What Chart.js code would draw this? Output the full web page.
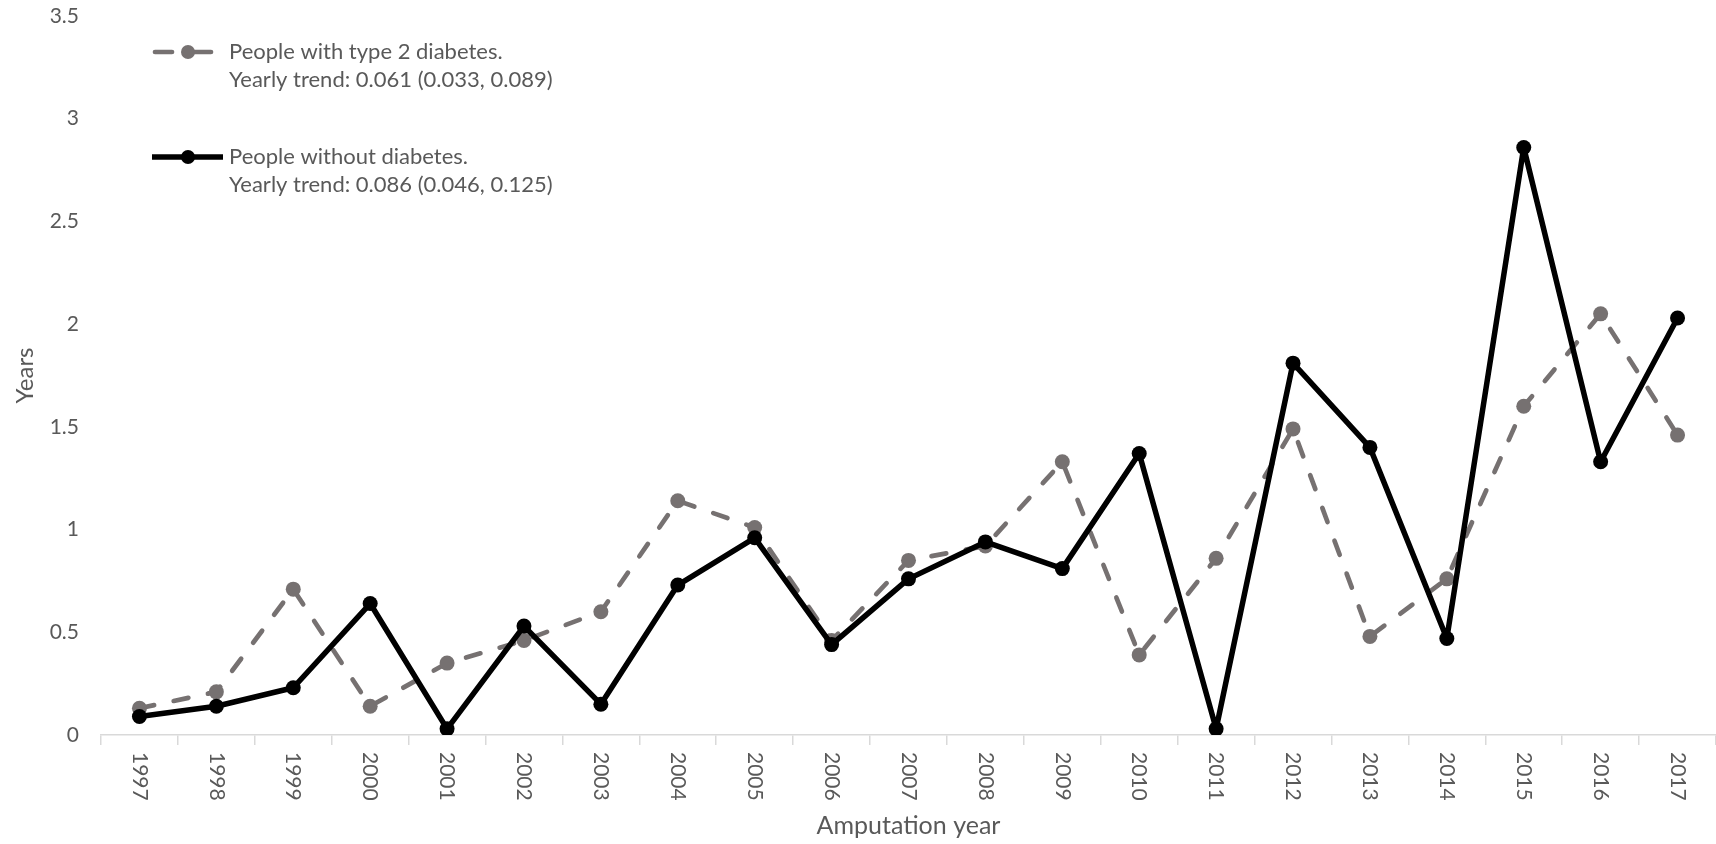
<!DOCTYPE html>
<html>
<head>
<meta charset="utf-8">
<script src="https://cdn.jsdelivr.net/npm/chart.js@4/dist/chart.umd.min.js"></script>
<style>
  html, body { margin: 0; padding: 0; background: #fff; }
  #chart { display: block; }
</style>
</head>
<body>
<canvas id="chart" width="1716" height="844"></canvas>
<script>
"use strict";

const years = ["1997", "1998", "1999", "2000", "2001", "2002", "2003",
               "2004", "2005", "2006", "2007", "2008", "2009", "2010",
               "2011", "2012", "2013", "2014", "2015", "2016", "2017"];

// mean years, people with type 2 diabetes
const withDiabetes = [0.13, 0.21, 0.71, 0.14, 0.35, 0.46, 0.60,
                      1.14, 1.01, 0.46, 0.85, 0.92, 1.33, 0.39,
                      0.86, 1.49, 0.48, 0.76, 1.60, 2.05, 1.46];

// mean years, people without diabetes
const withoutDiabetes = [0.09, 0.14, 0.23, 0.64, 0.03, 0.53, 0.15,
                         0.73, 0.96, 0.44, 0.76, 0.94, 0.81, 1.37,
                         0.03, 1.81, 1.40, 0.47, 2.86, 1.33, 2.03];

const legendLines = [
  ["People with type 2 diabetes.", "Yearly trend: 0.061 (0.033, 0.089)"],
  ["People without diabetes.", "Yearly trend: 0.086 (0.046, 0.125)"]
];

const TEXT = "#595959";
const GREY = "#767171";
const FONT = "Lato, 'Open Sans', sans-serif";

// year labels read top-to-bottom, and the two-line legend in the corner
const extrasPlugin = {
  id: "extras",
  afterDraw(chart) {
    const ctx = chart.ctx;
    const x = chart.scales.x;
    ctx.save();
    ctx.fillStyle = TEXT;
    ctx.font = "21px " + FONT;
    ctx.textAlign = "left";
    ctx.textBaseline = "middle";
    years.forEach((label, i) => {
      ctx.save();
      ctx.translate(x.getPixelForValue(i), x.top + 17);
      ctx.rotate(Math.PI / 2);
      ctx.fillText(label, 0, 0);
      ctx.restore();
    });

    const rows = [52, 157];
    chart.data.datasets.forEach((ds, i) => {
      const y = rows[i];
      ctx.save();
      ctx.strokeStyle = ds.borderColor;
      ctx.lineWidth = ds.borderWidth;
      ctx.lineCap = ds.borderDash ? "round" : "butt";
      if (ds.borderDash) {
        ctx.setLineDash([17, 22]);
      }
      ctx.beginPath();
      ctx.moveTo(ds.borderDash ? 155 : 152, y);
      ctx.lineTo(ds.borderDash ? 220 : 223, y);
      ctx.stroke();
      ctx.setLineDash([]);
      ctx.fillStyle = ds.pointBackgroundColor;
      ctx.beginPath();
      ctx.arc(188, y, 7, 0, Math.PI * 2);
      ctx.fill();
      ctx.restore();
      ctx.fillStyle = TEXT;
      ctx.font = "22px " + FONT;
      ctx.fillText(legendLines[i][0], 229, y);
      ctx.fillText(legendLines[i][1], 229, y + 28);
    });
    ctx.restore();
  }
};

new Chart(document.getElementById("chart"), {
  type: "line",
  data: {
    labels: years,
    datasets: [
      {
        label: legendLines[0].join(" "),
        data: withDiabetes,
        borderColor: GREY,
        backgroundColor: GREY,
        pointBackgroundColor: GREY,
        pointBorderWidth: 0,
        pointRadius: 7.5,
        borderWidth: 4.7,
        borderDash: [15, 20],
        borderCapStyle: "round",
        borderJoinStyle: "round",
        tension: 0,
        order: 2
      },
      {
        label: legendLines[1].join(" "),
        data: withoutDiabetes,
        borderColor: "#000",
        backgroundColor: "#000",
        pointBackgroundColor: "#000",
        pointBorderWidth: 0,
        pointRadius: 7.5,
        borderWidth: 5.5,
        borderJoinStyle: "round",
        tension: 0,
        order: 1
      }
    ]
  },
  options: {
    responsive: false,
    animation: false,
    layout: {
      autoPadding: false,
      padding: { top: 16, right: 0, bottom: 0, left: 0 }
    },
    plugins: {
      legend: { display: false },
      tooltip: { enabled: false }
    },
    scales: {
      x: {
        type: "category",
        offset: true,
        grid: {
          display: true,
          offset: true,
          drawOnChartArea: false,
          drawTicks: true,
          tickLength: 10,
          color: "#d9d9d9",
          lineWidth: 1.5
        },
        border: { display: true, color: "#d9d9d9", width: 1.5 },
        ticks: { display: false },
        title: {
          display: true,
          text: "Amputation year",
          color: TEXT,
          font: { family: FONT, size: 25 },
          padding: { top: 0, bottom: 3 }
        },
        afterFit: (scale) => {
          scale.height = 109;
          scale.paddingLeft = 0;
          scale.paddingRight = 0;
        }
      },
      y: {
        min: 0,
        max: 3.5,
        grid: { display: false },
        border: { display: false },
        ticks: {
          stepSize: 0.5,
          color: TEXT,
          font: { family: FONT, size: 21 },
          padding: 14,
          callback: (v) => String(v)
        },
        title: {
          display: true,
          text: "Years",
          color: TEXT,
          font: { family: FONT, size: 24 },
          padding: { top: 11, bottom: 0 }
        },
        afterFit: (scale) => {
          scale.width = 101;
          scale.paddingTop = 0;
          scale.paddingBottom = 0;
        }
      }
    }
  },
  plugins: [extrasPlugin]
});
</script>
</body>
</html>
